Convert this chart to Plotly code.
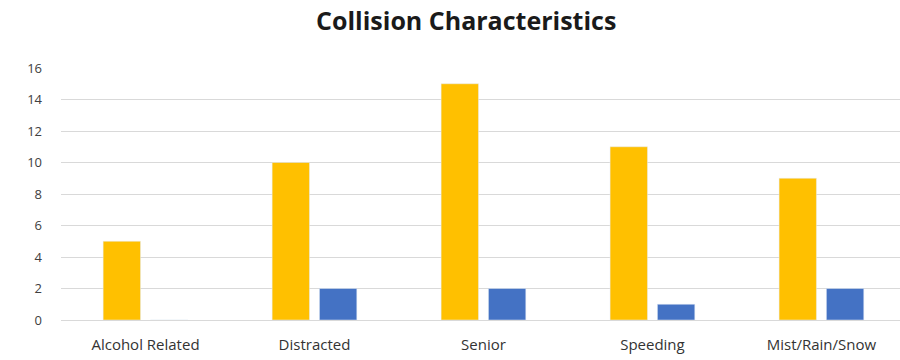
import plotly.graph_objects as go

categories = ["Alcohol Related", "Distracted", "Senior", "Speeding", "Mist/Rain/Snow"]
series_a = [5, 10, 15, 11, 9]
series_b = [0, 2, 2, 1, 2]
y_ticks = [0, 2, 4, 6, 8, 10, 12, 14, 16]

fig = go.Figure()
fig.add_trace(go.Bar(x=categories, y=series_a, marker_color="#FFC000", name="A"))
fig.add_trace(go.Bar(x=categories, y=series_b, marker_color="#4472C4", name="B"))

fig.update_layout(
    width=900, height=360,
    margin=dict(l=61, r=0, t=68, b=40),
    paper_bgcolor="white", plot_bgcolor="white",
    barmode="group", bargap=0.44, bargroupgap=0.21,
    showlegend=False,
    title=dict(text="<b>Collision Characteristics</b>", x=0.518, xanchor="center",
               y=0.94, yanchor="middle",
               font=dict(family="Open Sans", size=25, color="#1a1a1a")),
    font=dict(family="Open Sans", color="#404040"),
)
fig.update_xaxes(range=[-0.5, 4.465], showgrid=False, showline=False, ticks="",
                 tickfont=dict(size=15, color="#333333"), ticklabelstandoff=14)
fig.update_yaxes(range=[0, 16], tickvals=y_ticks, showgrid=True, gridcolor="#d9d9d9",
                 gridwidth=1, zeroline=True, zerolinecolor="#d9d9d9", zerolinewidth=1,
                 tickfont=dict(size=13, color="#404040"), ticklabelstandoff=18)

fig.write_html("out.html")
